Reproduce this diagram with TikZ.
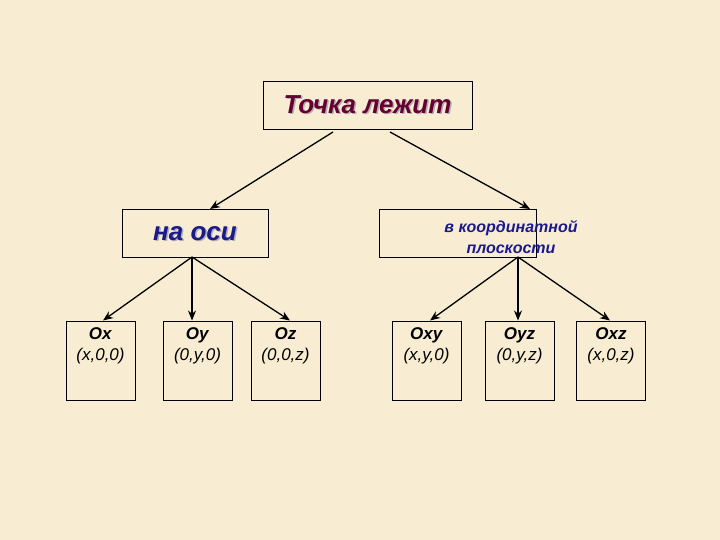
\documentclass[tikz,border=0pt]{standalone}
\usepackage{fontspec}
\setmainfont{Liberation Sans}
\usetikzlibrary{arrows.meta}
\definecolor{bg}{HTML}{F8EDD2}
\definecolor{maroon}{HTML}{660033}
\definecolor{navy}{HTML}{1A1A8C}
\begin{document}
\begin{tikzpicture}[x=1pt,y=-1pt,
  box/.style={draw,line width=1pt,inner sep=0pt},
  arr/.style={-{Stealth[length=10pt,width=8pt]},line width=1.3pt},
  big/.style={font=\fontsize{26}{30}\selectfont\bfseries\itshape}]
\fill[bg] (0,0) rectangle (720,540);
\useasboundingbox (0,0) rectangle (720,540);
\node[box,minimum width=209pt,minimum height=48pt] (top) at (367.5,106) {};
\node[text=gray!60,big] (topsh) at (369,106) {Точка лежит};
\node[text=maroon,big] (toptx) at (367.5,104.5) {Точка лежит};
\node[box,minimum width=146pt,minimum height=47pt] (axis) at (195,233.5) {};
\node[text=gray!60,big] (axsh) at (196.5,235) {на оси};
\node[text=navy,big] (axtx) at (195,233.5) {на оси};
\node[box,minimum width=157pt,minimum height=47pt] (plane) at (457.5,233.5) {};
\node[text=navy,align=center,font=\fontsize{16}{21}\selectfont\bfseries\itshape] (pltx) at (511,237) {в координатной\\ плоскости};
\foreach \n/\x/\a/\b in {ox/100.5/Ox/{(x,0,0)}, oy/197.5/Oy/{(0,y,0)}, oz/285.5/Oz/{(0,0,z)}, oxy/426.5/Oxy/{(x,y,0)}, oyz/519.5/Oyz/{(0,y,z)}, oxz/611/Oxz/{(x,0,z)}}{
  \node[box,minimum width=69pt,minimum height=79pt] (\n) at (\x,360.5) {};
  \node[align=center,anchor=north,font=\fontsize{17}{21}\selectfont] (\n t) at (\x,324) {\textbf{\textit{\a}}\\ \textit{\b}};
}
\coordinate (t1) at (333,132); \coordinate (t2) at (390,132);
\coordinate (e1) at (210,209); \coordinate (e2) at (530,209);
\draw[arr] (t1) -- (e1);
\draw[arr] (t2) -- (e2);
\coordinate (a) at (192,257); \coordinate (p) at (518,257);
\coordinate (b1) at (103,320.5); \coordinate (b3) at (290,320.5);
\coordinate (c1) at (430,320.5); \coordinate (c3) at (610,320.5);
\draw[arr] (a) -- (b1);
\draw[arr] (a) -- (192,320.5);
\draw[arr] (a) -- (b3);
\draw[arr] (p) -- (c1);
\draw[arr] (p) -- (518,320.5);
\draw[arr] (p) -- (c3);
\end{tikzpicture}
\end{document}
